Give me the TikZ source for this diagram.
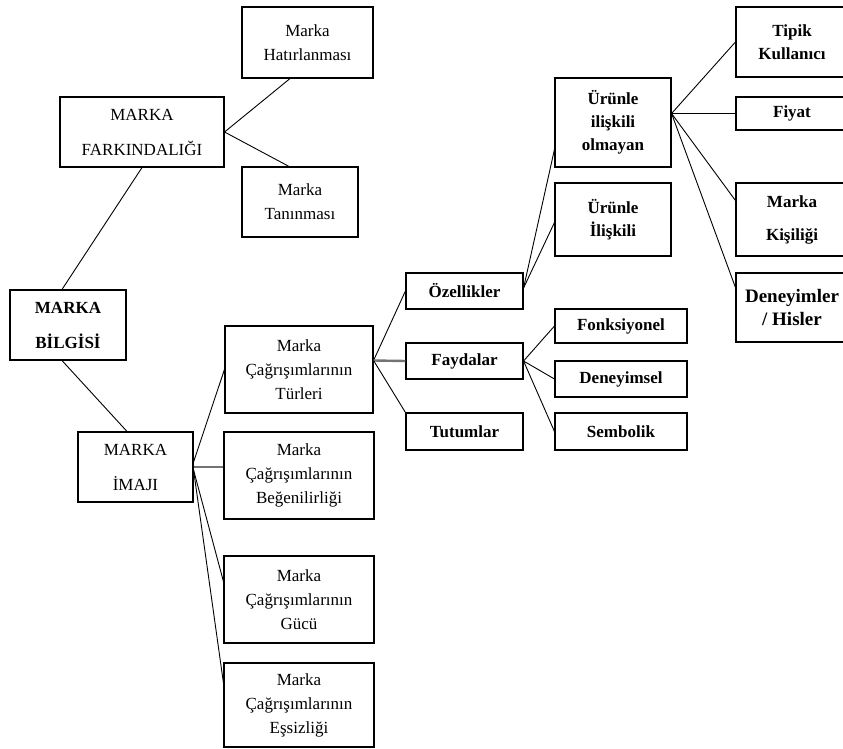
\documentclass[tikz,border=0pt]{standalone}
\usepackage{fontspec}
\setmainfont{Liberation Serif}
\tikzset{
  box/.style={draw, line width=1.1pt, inner sep=0pt, align=center, font=\fontsize{17}{24}\selectfont},
  boxwide/.style={box, font=\fontsize{17}{35}\selectfont},
  boxwideb/.style={box, font=\bfseries\fontsize{17}{35}\selectfont},
  boxb/.style={box, font=\bfseries\fontsize{17}{23}\selectfont},
  boxbk/.style={box, font=\bfseries\fontsize{17}{33}\selectfont},
  boxbl/.style={box, font=\bfseries\fontsize{19}{23}\selectfont},
  conn/.style={line width=0.9pt, black},
  connthick/.style={line width=2.4pt, black!55},
}
\newcommand{\mybox}[7]{%
  \node[#2, minimum width={(#5-#3)*1pt}, minimum height={(#6-#4)*1pt}] (#1) at ({(#3+#5)/2},{(#4+#6)/2}) {#7};}
\begin{document}
\begin{tikzpicture}[x=1pt,y=-1pt]
\useasboundingbox (0,0) rectangle (843,749);
\clip (0,0) rectangle (843,749);
\fill[white] (0,0) rectangle (843,749);

\mybox{hat}{box}{242}{7}{373}{78}{Marka\\Hatırlanması}
\mybox{fark}{boxwide}{60}{97}{224}{167}{MARKA\\FARKINDALIĞI}
\mybox{tan}{box}{242}{167}{358}{237}{Marka\\Tanınması}
\mybox{bilgi}{boxwideb}{10}{290}{126}{360}{MARKA\\BİLGİSİ}
\mybox{imaji}{boxwide}{78}{432}{193}{502}{MARKA\\İMAJI}
\mybox{turleri}{box}{225}{326}{373}{413}{Marka\\Çağrışımlarının\\Türleri}
\mybox{begen}{box}{224}{432}{374}{519}{Marka\\Çağrışımlarının\\Beğenilirliği}
\mybox{gucu}{box}{224}{556}{374}{643}{Marka\\Çağrışımlarının\\Gücü}
\mybox{essiz}{box}{224}{663}{374}{747}{Marka\\Çağrışımlarının\\Eşsizliği}
\mybox{ozel}{boxb}{406}{273}{523}{309}{Özellikler}
\mybox{fayda}{boxb}{406}{343}{523}{379}{Faydalar}
\mybox{tutum}{boxb}{406}{413}{523}{450}{Tutumlar}
\mybox{fonk}{boxb}{555}{309}{687}{343}{Fonksiyonel}
\mybox{deneysel}{boxb}{555}{361}{687}{397}{Deneyimsel}
\mybox{semb}{boxb}{555}{413}{687}{450}{Sembolik}
\mybox{olmayan}{boxb}{555}{78}{671}{167}{Ürünle\\ilişkili\\olmayan}
\mybox{iliskili}{boxb}{555}{183}{671}{256}{Ürünle\\İlişkili}
\mybox{tipik}{boxb}{736}{7}{848}{77}{Tipik\\Kullanıcı}
\mybox{fiyat}{boxb}{736}{97}{848}{130}{Fiyat}
\mybox{kisilik}{boxbk}{736}{183}{848}{256}{Marka\\Kişiliği}
\mybox{deneyim}{boxbl}{736}{273}{848}{342}{Deneyimler\\/ Hisler}

% connectors
\draw[conn] (fark.east) -- ([xshift=-17.5pt]hat.south);
\draw[conn] (fark.east) -- ([xshift=-11pt]tan.north);
\draw[conn] (fark.south) -- ([xshift=-6pt]bilgi.north);
\draw[conn] ([xshift=-6pt]bilgi.south) -- ([xshift=-8.5pt]imaji.north);

\draw[conn] ([yshift=5pt]imaji.east) -- (turleri.west);
\draw[connthick] (imaji.east) -- ([yshift=8.5pt]begen.west);
\draw[conn] ([yshift=-3pt]imaji.east) -- ([yshift=18pt]gucu.west);
\draw[conn] ([yshift=-3pt]imaji.east) -- ([yshift=22pt]essiz.west);

\draw[conn] ([yshift=9pt]turleri.east) -- (ozel.west);
\draw[connthick] ([yshift=9pt]turleri.east) -- (fayda.west);
\draw[conn] ([yshift=9pt]turleri.east) -- (tutum.north west);

\draw[conn] (fayda.east) -- (fonk.west);
\draw[conn] (fayda.east) -- (deneysel.west);
\draw[conn] (fayda.east) -- (semb.west);

\draw[conn] ([yshift=3pt]ozel.east) -- ([yshift=-27pt]olmayan.west);
\draw[conn] ([yshift=3pt]ozel.east) -- ([yshift=-3pt]iliskili.west);

\draw[conn] ([yshift=9pt]olmayan.east) -- (tipik.west);
\draw[conn] ([yshift=9pt]olmayan.east) -- (fiyat.west);
\draw[conn] ([yshift=9pt]olmayan.east) -- ([yshift=19pt]kisilik.west);
\draw[conn] ([yshift=9pt]olmayan.east) -- ([yshift=20pt]deneyim.west);
\end{tikzpicture}
\end{document}
